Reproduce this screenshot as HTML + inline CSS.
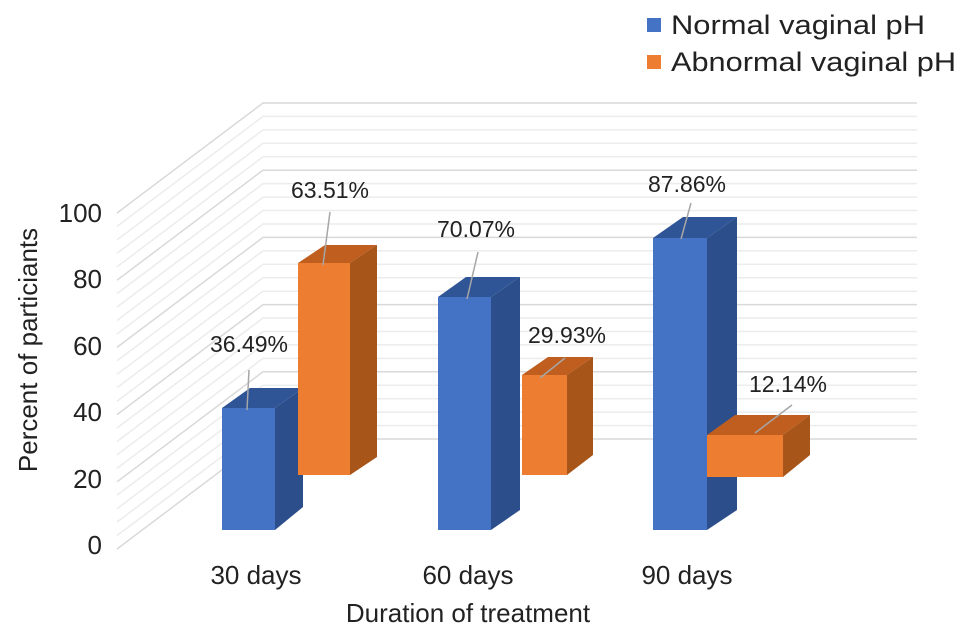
<!DOCTYPE html>
<html><head><meta charset="utf-8"><style>
html,body{margin:0;padding:0;background:#fff;}
svg{display:block;font-family:"Liberation Sans",Arial,sans-serif;}
</style></head><body>
<svg width="969" height="638" viewBox="0 0 969 638" xmlns="http://www.w3.org/2000/svg">
<path fill="none" stroke="#ececec" stroke-width="1.5" d="
M117,226.4L263,116.4H917 M117,239.9L263,129.9H917 M117,253.3L263,143.3H917 M117,266.8L263,156.8H917
M117,293.6L263,183.6H917 M117,307.1L263,197.1H917 M117,320.5L263,210.5H917 M117,334L263,224H917
M117,360.8L263,250.8H917 M117,374.3L263,264.3H917 M117,387.7L263,277.7H917 M117,401.2L263,291.2H917
M117,428L263,318H917 M117,441.5L263,331.5H917 M117,454.9L263,344.9H917 M117,468.4L263,358.4H917
M117,495.2L263,385.2H917 M117,508.7L263,398.7H917 M117,522.1L263,412.1H917 M117,535.6L263,425.6H917"/>
<path fill="none" stroke="#d9d9d9" stroke-width="1.5" d="
M117,213L263,103H917 M117,280.2L263,170.2H917 M117,347.4L263,237.4H917 M117,414.6L263,304.6H917 M117,481.8L263,371.8H917 M117,549L263,439H917"/>
<polygon points="222,408 250,388 303,388 275,408" fill="#2f5597"/>
<polygon points="275,408 303,388 303,507 275,530" fill="#2c4f8c"/>
<rect x="222" y="408" width="53" height="122" fill="#4472c4"/>
<polygon points="298,263 325,245 377,245 350,263" fill="#c05e1f"/>
<polygon points="350,263 377,245 377,457 350,475" fill="#a85519"/>
<rect x="298" y="263" width="52" height="212" fill="#ed7d31"/>
<polygon points="438,297 466,277 520,277 491,297" fill="#2f5597"/>
<polygon points="491,297 520,277 520,510 491,530" fill="#2c4f8c"/>
<rect x="438" y="297" width="53" height="233" fill="#4472c4"/>
<polygon points="522,375 548,357 593,357 567,375" fill="#c05e1f"/>
<polygon points="567,375 593,357 593,455 567,475" fill="#a85519"/>
<rect x="522" y="375" width="45" height="100" fill="#ed7d31"/>
<polygon points="653,238 683,217 737,217 707,238" fill="#2f5597"/>
<polygon points="707,238 737,217 737,510 707,530" fill="#2c4f8c"/>
<rect x="653" y="238" width="54" height="292" fill="#4472c4"/>
<polygon points="707,435 735,415 810,415 783,435" fill="#c05e1f"/>
<polygon points="783,435 810,415 810,455 783,477" fill="#a85519"/>
<rect x="707" y="435" width="76" height="42" fill="#ed7d31"/>
<g stroke="#a6a6a6" stroke-width="1.5">
<line x1="249" y1="370" x2="247" y2="410"/>
<line x1="330" y1="212" x2="323" y2="265"/>
<line x1="478" y1="252" x2="467" y2="299"/>
<line x1="565" y1="358" x2="540" y2="378"/>
<line x1="691" y1="203" x2="681" y2="239"/>
<line x1="792" y1="405" x2="755" y2="433"/>
</g>
<g font-size="23" fill="#222" text-anchor="middle">
<text x="249" y="352">36.49%</text>
<text x="330" y="198">63.51%</text>
<text x="476" y="237">70.07%</text>
<text x="567" y="343">29.93%</text>
<text x="687" y="192">87.86%</text>
<text x="788" y="392">12.14%</text>
</g>
<g font-size="26" fill="#222" text-anchor="end">
<text x="102" y="222">100</text>
<text x="102" y="288">80</text>
<text x="102" y="355">60</text>
<text x="102" y="421">40</text>
<text x="102" y="488">20</text>
<text x="102" y="554">0</text>
</g>
<text transform="translate(37,350) rotate(-90)" font-size="26" fill="#222" text-anchor="middle">Percent of particiants</text>
<g font-size="26" fill="#222" text-anchor="middle">
<text x="256" y="584">30 days</text>
<text x="468" y="584">60 days</text>
<text x="687" y="584">90 days</text>
<text x="468" y="622">Duration of treatment</text>
</g>
<rect x="647" y="18" width="14" height="14" fill="#4472c4"/>
<rect x="647" y="55" width="14" height="14" fill="#ed7d31"/>
<g font-size="27" fill="#222">
<text x="671" y="34" textLength="254" lengthAdjust="spacingAndGlyphs">Normal vaginal pH</text>
<text x="671" y="71" textLength="285" lengthAdjust="spacingAndGlyphs">Abnormal vaginal pH</text>
</g>
</svg>
</body></html>
